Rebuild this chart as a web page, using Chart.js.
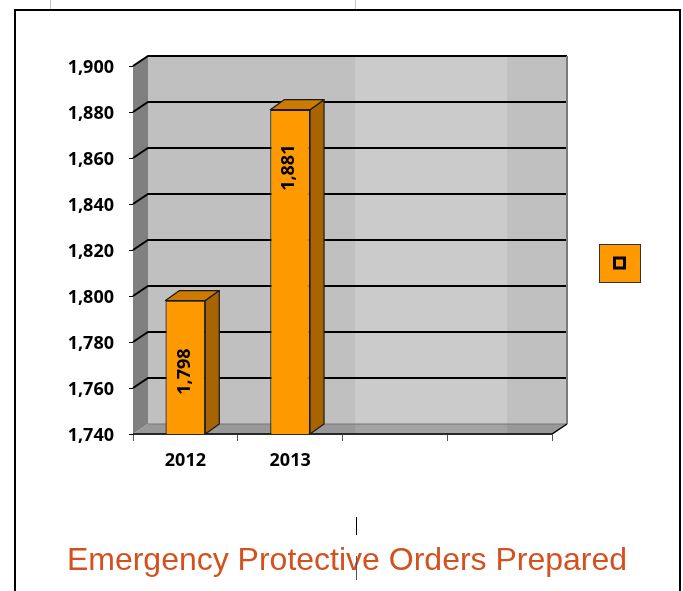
<!DOCTYPE html>
<html>
<head>
<meta charset="utf-8">
<title>Emergency Protective Orders Prepared</title>
<script src="https://cdn.jsdelivr.net/npm/chart.js@4.4.1/dist/chart.umd.min.js"></script>
<style>
  html, body { margin: 0; padding: 0; background: #fff; }
  #wrap { width: 683px; height: 591px; }
</style>
</head>
<body>
<div id="wrap"><canvas id="epoChart" width="683" height="591"></canvas></div>
<script>
// Data
const years = ['2012', '2013', '', ''];
const ordersPrepared = [1798, 1881, null, null];
const yTickValues = [1740, 1760, 1780, 1800, 1820, 1840, 1860, 1880, 1900];
const chartTitle = 'Emergency Protective Orders Prepared';

// Look
const BAR_FRONT = '#ff9900';
const BAR_SIDE = '#a86400';
const BAR_TOP = '#cc7a00';
const WALL_DEPTH = { dx: 15, dy: -10 };
const BAR_DEPTH = { dx: 14, dy: -10 };
const labelDrop = [71, 58]; // distance from bar top to centre of value label
const tickFont = { family: "'Open Sans', sans-serif", size: 18, weight: 'bold' };

function poly(ctx, pts) {
    ctx.beginPath();
    ctx.moveTo(pts[0][0], pts[0][1]);
    for (let i = 1; i < pts.length; i++) ctx.lineTo(pts[i][0], pts[i][1]);
    ctx.closePath();
}

function bandGradient(ctx, x0, x1, c1, c2) {
    const g = ctx.createLinearGradient(x0, 0, x1, 0);
    g.addColorStop(0, c1);
    g.addColorStop(0.493, c1);
    g.addColorStop(0.493, c2);
    g.addColorStop(0.857, c2);
    g.addColorStop(0.857, c1);
    g.addColorStop(1, c1);
    return g;
}

// Side wall, back wall, floor and gridlines behind the bars
const wallPlugin = {
    id: 'wall3d',
    beforeDatasetsDraw(chart) {
        const { ctx, chartArea: a, scales: { y } } = chart;
        const { dx, dy } = WALL_DEPTH;
        ctx.save();

        // left side wall
        ctx.fillStyle = '#808080';
        poly(ctx, [[a.left, a.top], [a.left + dx, a.top + dy], [a.left + dx, a.bottom + dy], [a.left, a.bottom]]);
        ctx.fill();

        // back wall
        ctx.fillStyle = bandGradient(ctx, a.left + dx, a.right + dx, '#c0c0c0', '#cbcbcb');
        ctx.fillRect(a.left + dx, a.top + dy, a.right - a.left, a.bottom - a.top);

        // floor
        ctx.fillStyle = bandGradient(ctx, a.left + dx, a.right + dx, '#999999', '#a3a3a3');
        poly(ctx, [[a.left, a.bottom], [a.left + dx, a.bottom + dy], [a.right + dx, a.bottom + dy], [a.right, a.bottom]]);
        ctx.fill();

        // gridlines on side and back wall
        ctx.strokeStyle = '#000';
        ctx.lineWidth = 2;
        y.ticks.forEach(t => {
            if (t.value === y.min) return;
            const py = y.getPixelForValue(t.value);
            ctx.beginPath();
            ctx.moveTo(a.left, py);
            ctx.lineTo(a.left + dx, py + dy);
            ctx.lineTo(a.right + dx, py + dy);
            ctx.stroke();
        });

        // wall / floor seam
        ctx.strokeStyle = '#777';
        ctx.lineWidth = 1;
        ctx.beginPath();
        ctx.moveTo(a.left + dx, a.bottom + dy);
        ctx.lineTo(a.right + dx, a.bottom + dy);
        ctx.stroke();

        // right edge of back wall
        ctx.strokeStyle = '#7a7a7a';
        ctx.lineWidth = 2;
        ctx.beginPath();
        ctx.moveTo(a.right + dx, a.top + dy);
        ctx.lineTo(a.right + dx, a.bottom + dy);
        ctx.stroke();

        // floor edges
        ctx.strokeStyle = '#000';
        ctx.lineWidth = 1.5;
        ctx.beginPath();
        ctx.moveTo(a.left, a.bottom);
        ctx.lineTo(a.right, a.bottom);
        ctx.lineTo(a.right + dx, a.bottom + dy);
        ctx.stroke();

        ctx.restore();
    }
};

// Top and side faces of each bar, plus the rotated value label
const barFacesPlugin = {
    id: 'barFaces',
    afterDatasetsDraw(chart) {
        const { ctx, chartArea: a } = chart;
        const { dx, dy } = BAR_DEPTH;
        const meta = chart.getDatasetMeta(0);
        ctx.save();
        ctx.strokeStyle = '#1a1a1a';
        ctx.lineWidth = 1.2;
        ctx.lineJoin = 'round';
        meta.data.forEach((bar, i) => {
            const v = ordersPrepared[i];
            if (v == null) return;
            const p = bar.getProps(['x', 'y', 'base', 'width'], true);
            const x = p.x, y = p.y, w = p.width;
            const base = Math.min(p.base, a.bottom); // axis does not start at zero
            const l = x - w / 2, r = x + w / 2;

            ctx.fillStyle = BAR_SIDE;
            poly(ctx, [[r, y], [r + dx, y + dy], [r + dx, base + dy], [r, base]]);
            ctx.fill();
            ctx.stroke();

            ctx.fillStyle = BAR_TOP;
            poly(ctx, [[l, y], [l + dx, y + dy], [r + dx, y + dy], [r, y]]);
            ctx.fill();
            ctx.stroke();

            ctx.save();
            ctx.translate(x - 1, y + labelDrop[i]);
            ctx.rotate(-Math.PI / 2);
            ctx.fillStyle = '#000';
            ctx.font = "bold 18px 'Open Sans', sans-serif";
            ctx.textAlign = 'center';
            ctx.textBaseline = 'middle';
            ctx.fillText(v.toLocaleString('en-US'), 0, 0);
            ctx.restore();
        });
        ctx.restore();
    }
};

// Legend swatch, frame and small marks around the chart
const framePlugin = {
    id: 'frame',
    afterDraw(chart) {
        const { ctx, chartArea: a } = chart;
        ctx.save();

        // legend key (series has no name)
        const lx = a.right + 47;
        const ly = (a.top + a.bottom) / 2 - 6;
        ctx.fillStyle = chart.data.datasets[0].backgroundColor;
        ctx.fillRect(lx, ly, 42, 39);
        ctx.strokeStyle = '#333';
        ctx.lineWidth = 1;
        ctx.strokeRect(lx + 0.5, ly + 0.5, 41, 38);
        ctx.strokeStyle = '#000';
        ctx.lineWidth = 3;
        ctx.strokeRect(lx + 15.5, ly + 14, 10, 10);

        // outer frame
        ctx.strokeStyle = '#000';
        ctx.lineWidth = 2;
        ctx.beginPath();
        ctx.moveTo(15, chart.height);
        ctx.lineTo(15, 10);
        ctx.lineTo(680, 10);
        ctx.lineTo(680, chart.height);
        ctx.stroke();

        ctx.fillStyle = '#c4c4c4';
        ctx.fillRect(50, 0, 1, 9);
        ctx.fillRect(355, 0, 1, 9);
        ctx.fillStyle = '#000';
        ctx.fillRect(356, 517, 1, 18);
        ctx.fillStyle = '#555';
        ctx.fillRect(356, 556, 1, 24);
        ctx.restore();
    }
};

new Chart(document.getElementById('epoChart'), {
    type: 'bar',
    data: {
        labels: years,
        datasets: [{
            label: '',
            data: ordersPrepared,
            backgroundColor: BAR_FRONT,
            borderColor: '#1a1a1a',
            borderWidth: 1.2,
            borderSkipped: false,
            barPercentage: 0.38,
            categoryPercentage: 1
        }]
    },
    options: {
        responsive: false,
        devicePixelRatio: 1,
        animation: false,
        layout: { padding: { top: 66, right: 0, left: 11, bottom: 0 } },
        plugins: {
            legend: { display: false },
            tooltip: { enabled: false },
            title: {
                display: true,
                text: chartTitle,
                position: 'bottom',
                color: '#d4501e',
                font: { family: "'Liberation Sans', Arial, sans-serif", size: 32, weight: 'normal' },
                padding: { top: 0, bottom: 11 }
            }
        },
        scales: {
            x: {
                grid: { offset: true, drawOnChartArea: false, tickLength: 7, color: '#555' },
                border: { display: true, color: '#aaa', width: 1 },
                ticks: { color: '#000', font: tickFont, padding: 9, maxRotation: 0 },
                afterFit: s => { s.height = 107.6; }
            },
            y: {
                min: yTickValues[0],
                max: yTickValues[yTickValues.length - 1],
                afterBuildTicks: s => { s.ticks = yTickValues.map(v => ({ value: v })); },
                grid: { drawOnChartArea: false, tickLength: 4, color: '#000' },
                border: { display: false },
                ticks: {
                    color: '#000',
                    font: tickFont,
                    padding: 15,
                    labelOffset: 2,
                    callback: v => v.toLocaleString('en-US')
                },
                afterFit: s => { s.width = 122; }
            },
            // empty right-hand gutter that holds the legend key
            gutter: {
                type: 'linear',
                position: 'right',
                display: true,
                grid: { display: false },
                border: { display: false },
                ticks: { display: false },
                afterFit: s => { s.width = 131; }
            }
        }
    },
    plugins: [wallPlugin, barFacesPlugin, framePlugin]
});
</script>
</body>
</html>
